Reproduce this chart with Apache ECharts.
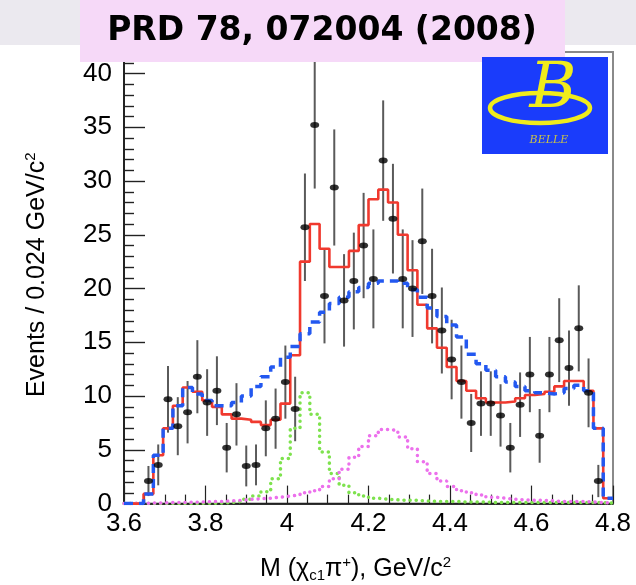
<!DOCTYPE html>
<html>
<head>
<meta charset="utf-8">
<script src="https://cdn.jsdelivr.net/npm/echarts@6/dist/echarts.min.js"></script>
<style>
html,body{margin:0;padding:0;background:#fff;}
#chart{width:636px;height:585px;}
</style>
</head>
<body>
<div id="chart"></div>
<script>
// ---- data (50 bins of 0.024 GeV/c^2 from 3.6 to 4.8) ----
const xStart = 3.6;
const xEnd = 4.8;
const binWidth = 0.024;
const xTickLabels = ['3.6','3.8','4','4.2','4.4','4.6','4.8'];
const yTickLabels = ['0','5','10','15','20','25','30','35','40'];

// measured events per bin (null = no entry)
const dataCounts = [null,null,2.1,3.6,9.7,7.2,8.5,11.8,9.4,10.5,
  5.2,8.3,3.5,3.6,7.0,7.9,11.3,8.8,25.7,35.2,
  19.3,29.4,18.9,20.7,24.0,20.9,31.9,26.5,20.9,20.0,
  24.4,19.3,16.1,13.4,11.3,7.5,9.3,9.3,8.2,5.2,
  9.2,12.0,6.3,12.0,15.2,12.6,16.3,10.3,2.1,null];
// error bar half-lengths
const dataErrors = [0,0,1.4,1.9,3.1,2.7,2.9,3.4,3.1,3.2,
  2.3,2.9,1.9,1.9,2.6,2.8,3.4,3.0,5.0,5.9,
  4.4,5.4,4.3,4.5,4.9,4.6,5.6,5.1,4.6,4.5,
  4.9,4.4,4.0,3.7,3.4,2.7,3.0,3.0,2.9,2.3,
  3.0,3.5,2.5,3.5,3.9,3.5,4.0,3.2,1.5,0];
// total fit (red solid histogram)
const fitTotal = [0,0,0.9,4.5,7.0,9.1,10.8,10.4,9.6,9.0,
  8.3,7.9,7.8,7.6,7.3,7.8,9.3,13.8,22.5,26.0,
  23.7,22.0,22.0,23.5,25.9,28.3,29.2,28.0,25.0,21.7,
  18.5,16.3,14.5,12.7,11.4,10.5,9.8,9.4,9.4,9.5,
  9.8,10.1,10.2,10.4,10.9,11.4,11.4,10.5,7.0,0.5];
// background (blue dashed)
const fitBackground = [0,0,0.9,4.5,7.0,9.1,10.8,10.2,9.6,9.1,
  9.1,9.4,10.0,10.9,11.8,12.7,13.6,14.6,15.8,16.9,
  17.8,18.6,19.2,19.7,20.1,20.5,20.7,20.7,20.5,19.9,
  19.2,18.2,17.4,16.6,15.5,13.9,13.0,12.4,11.8,11.3,
  10.9,10.5,10.3,10.2,10.3,10.7,11.0,10.5,7.0,0.5];
// Z(4050) component (green dotted)
const fitZ1 = [0,0,0,0,0,0,0,0.02,0.03,0.05,
  0.1,0.2,0.4,0.7,1.1,2.3,4.2,7.0,10.3,8.3,
  4.8,2.8,1.7,1.0,0.7,0.5,0.4,0.35,0.3,0.3,
  0.25,0.2,0.2,0.2,0.15,0.15,0.15,0.1,0.1,0.1,
  0.1,0.1,0.1,0.1,0.1,0.1,0.1,0.1,0.1,0.05];
// Z(4250) component (magenta dotted)
const fitZ2 = [0.02,0.03,0.05,0.05,0.1,0.1,0.12,0.15,0.18,0.2,
  0.25,0.3,0.4,0.45,0.5,0.6,0.7,0.8,1.0,1.2,
  1.6,2.3,3.2,4.3,5.3,6.3,6.9,6.8,6.2,5.1,
  3.9,2.8,2.1,1.6,1.2,1.0,0.8,0.6,0.5,0.4,
  0.35,0.3,0.3,0.25,0.2,0.2,0.2,0.15,0.1,0.05];

// ---- build series data ----
const nBins = dataCounts.length;
function binLeft(i){ return +(xStart + i*binWidth).toFixed(4); }
function binCenter(i){ return +(xStart + (i+0.5)*binWidth).toFixed(4); }
function stepData(arr){
  const d = arr.map((v,i)=>[binLeft(i), v]);
  d.push([xEnd, arr[arr.length-1]]);
  return d;
}
const pointData = [];
const errData = [];
for (let i=0;i<nBins;i++){
  if (dataCounts[i] === null) continue;
  pointData.push([binCenter(i), dataCounts[i]]);
  errData.push([binCenter(i), dataCounts[i]-dataErrors[i], dataCounts[i]+dataErrors[i]]);
}

const FONT = '"Liberation Sans", Arial, Helvetica, sans-serif';
const chart = echarts.init(document.getElementById('chart'), null, {renderer:'canvas'});

const option = {
  animation:false,
  backgroundColor:'#ffffff',
  grid:{left:124, top:52, width:489, height:451.6, containLabel:false, outerBoundsMode:'none',
    show:true, borderColor:'#8a8a8a', borderWidth:2, backgroundColor:'transparent'},
  xAxis:{
    type:'value', min:xStart, max:xEnd, interval:0.2,
    axisLine:{show:true, onZero:false, lineStyle:{color:'#000', width:1.5}},
    axisTick:{show:true, inside:true, length:18, lineStyle:{color:'#222', width:1.2}},
    minorTick:{show:true, splitNumber:4, length:9, lineStyle:{color:'#222', width:1.2}},
    splitLine:{show:false},
    axisLabel:{fontFamily:FONT, fontSize:26, color:'#000', margin:7,
      formatter:function(v){ const s = xTickLabels.find(t=>Math.abs(parseFloat(t)-v)<1e-6); return s===undefined?'':s; }},
    name:'M (χ{sub|c1}π{sup|+}), GeV/c{sup|2}',
    nameLocation:'middle', nameGap:52,
    nameTextStyle:{fontFamily:FONT, fontSize:25, color:'#000', padding:[0,26,0,0],
      rich:{sub:{fontFamily:FONT, fontSize:15, color:'#000', verticalAlign:'bottom', padding:[11,0,0,0]},
            sup:{fontFamily:FONT, fontSize:15, color:'#000', verticalAlign:'top', padding:[0,0,13,0]}}}
  },
  yAxis:{
    type:'value', min:0, max:42, interval:5,
    axisLine:{show:true, lineStyle:{color:'#000', width:1.5}},
    axisTick:{show:true, inside:true, length:21, lineStyle:{color:'#222', width:1.4}},
    minorTick:{show:true, splitNumber:5, length:10, lineStyle:{color:'#222', width:1.4}},
    splitLine:{show:false},
    axisLabel:{fontFamily:FONT, fontSize:26, color:'#000', margin:12,
      formatter:function(v){ const s = yTickLabels.find(t=>Math.abs(parseFloat(t)-v)<1e-6); return s===undefined?'':s; }},
    name:'Events / 0.024 GeV/c{sup|2}',
    nameLocation:'middle', nameGap:73, nameRotate:90,
    nameTextStyle:{fontFamily:FONT, fontSize:25, color:'#000', padding:[0,0,0,6],
      rich:{sup:{fontFamily:FONT, fontSize:15, color:'#000', verticalAlign:'top', padding:[0,0,13,0]}}}
  },
  series:[
    {type:'custom', name:'errors', z:2, clip:false,
      renderItem:function(params, api){
        const p1 = api.coord([api.value(0), api.value(1)]);
        const p2 = api.coord([api.value(0), api.value(2)]);
        return {type:'line', shape:{x1:p1[0], y1:p1[1], x2:p2[0], y2:p2[1]},
          style:{stroke:'#5a5a5a', lineWidth:2}};
      },
      encode:{x:0, y:[1,2]},
      data:errData},
    {type:'line', name:'Z1', step:'end', showSymbol:false, z:3,
      lineStyle:{color:'#7ee24e', width:3.5, type:[0.1,6], cap:'round'},
      data:stepData(fitZ1)},
    {type:'line', name:'Z2', step:'end', showSymbol:false, z:3,
      lineStyle:{color:'#ec70ec', width:3.5, type:[0.1,6], cap:'round'},
      data:stepData(fitZ2)},
    {type:'line', name:'total', step:'end', showSymbol:false, z:4,
      lineStyle:{color:'#f0392e', width:2.6},
      data:stepData(fitTotal)},
    {type:'line', name:'background', step:'end', showSymbol:false, z:5,
      lineStyle:{color:'#2358f0', width:3.5, type:[9,6]},
      data:stepData(fitBackground)},
    {type:'scatter', name:'data', z:6, symbol:'circle', symbolSize:[9,6],
      itemStyle:{color:'#000'},
      data:pointData}
  ],
  graphic:[
    {type:'rect', z:100, shape:{x:0, y:0, width:636, height:45}, style:{fill:'#ebe9ef'}},
    {type:'rect', z:101, shape:{x:80, y:0, width:485, height:62}, style:{fill:'#f6d9f8'}},
    {type:'text', z:102, x:322, y:31, style:{text:'PRD 78, 072004 (2008)', fill:'#000',
      font:'bold 33px "DejaVu Sans", sans-serif', align:'center', verticalAlign:'middle'}},
    {type:'group', z:103, children:[
      {type:'rect', z:103, shape:{x:482, y:57, width:126, height:97}, style:{fill:'#1a3cfb'}},
      {type:'ellipse', z:104, shape:{cx:540, cy:108, rx:50, ry:15}, style:{fill:'none', stroke:'#f0ec1c', lineWidth:4.5}},
      {type:'text', z:104, x:553, y:90, style:{text:'B', fill:'#f0ec1c', font:'italic 64px "DejaVu Serif", serif', align:'center', verticalAlign:'middle'}},
      {type:'text', z:104, x:549, y:140, style:{text:'BELLE', fill:'#c8c24a', font:'italic 11px "DejaVu Serif", serif', align:'center', verticalAlign:'middle'}}
    ]}
  ]
};
chart.setOption(option);
</script>
</body>
</html>
